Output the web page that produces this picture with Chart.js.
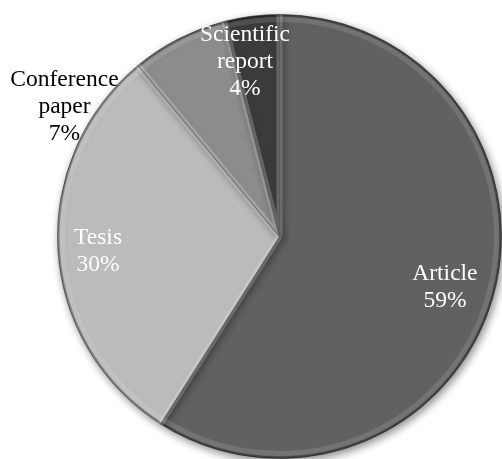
<!DOCTYPE html>
<html>
<head>
<meta charset="utf-8">
<script src="https://cdn.jsdelivr.net/npm/chart.js@4/dist/chart.umd.min.js"></script>
<style>
  html, body { margin: 0; padding: 0; background: #ffffff; }
  #wrap { width: 502px; height: 459px; position: relative; }
</style>
</head>
<body>
<div id="wrap"><canvas id="c" width="502" height="459"></canvas></div>
<script>
// Publication types and their share (%)
const categories = ['Article', 'Tesis', 'Conference paper', 'Scientific report'];
const shares = [59, 30, 7, 4];
const sliceColors = ['#616161', '#bbbbbb', '#8c8c8c', '#3b3b3b'];

// Label placement: fraction of radius along the slice bisector, extra angle (deg)
const labelRadius = [0.78, 0.82, 1.13, 0.80];
const labelAngleShift = [1, -1, -32, -4];
const labelInside = [true, true, false, true];

const FONT = '23.5px "Liberation Serif", "Times New Roman", serif';

// Soft drop shadow under the pie
const shadowPlugin = {
  id: 'pieShadow',
  beforeDatasetDraw(chart) {
    const ctx = chart.ctx;
    ctx.save();
    ctx.shadowColor = 'rgba(0,0,0,0.45)';
    ctx.shadowBlur = 9;
    ctx.shadowOffsetX = 2;
    ctx.shadowOffsetY = 3;
  },
  afterDatasetDraw(chart) {
    chart.ctx.restore();
  }
};

// Bevel highlights along the rim and slice edges
const bevelPlugin = {
  id: 'bevel',
  afterDatasetsDraw(chart) {
    const ctx = chart.ctx;
    const arcs = chart.getDatasetMeta(0).data;
    arcs.forEach((arc) => {
      const { x, y, startAngle, endAngle, outerRadius } = arc.getProps(['x', 'y', 'startAngle', 'endAngle', 'outerRadius'], true);
      ctx.save();
      ctx.beginPath();
      ctx.moveTo(x, y);
      ctx.arc(x, y, outerRadius, startAngle, endAngle);
      ctx.closePath();
      ctx.clip();
      // darker rim band
      ctx.beginPath();
      ctx.arc(x, y, outerRadius - 1, startAngle, endAngle);
      ctx.strokeStyle = 'rgba(0,0,0,0.3)';
      ctx.lineWidth = 2;
      ctx.stroke();
      ctx.beginPath();
      ctx.arc(x, y, outerRadius - 5, startAngle, endAngle);
      ctx.strokeStyle = 'rgba(255,255,255,0.12)';
      ctx.lineWidth = 5;
      ctx.stroke();
      // light edges on the slice sides
      ctx.beginPath();
      ctx.moveTo(x, y);
      ctx.lineTo(x + outerRadius * Math.cos(startAngle), y + outerRadius * Math.sin(startAngle));
      ctx.moveTo(x, y);
      ctx.lineTo(x + outerRadius * Math.cos(endAngle), y + outerRadius * Math.sin(endAngle));
      ctx.strokeStyle = 'rgba(255,255,255,0.22)';
      ctx.lineWidth = 6;
      ctx.stroke();
      ctx.restore();
    });
  }
};

// Category name and percentage written on each slice
const labelPlugin = {
  id: 'sliceLabels',
  afterDatasetsDraw(chart) {
    const ctx = chart.ctx;
    const arcs = chart.getDatasetMeta(0).data;
    ctx.save();
    ctx.font = FONT;
    ctx.textAlign = 'center';
    ctx.textBaseline = 'middle';
    arcs.forEach((arc, i) => {
      const { x, y, startAngle, endAngle, outerRadius } = arc.getProps(['x', 'y', 'startAngle', 'endAngle', 'outerRadius'], true);
      const mid = (startAngle + endAngle) / 2 + labelAngleShift[i] * Math.PI / 180;
      const r = outerRadius * labelRadius[i];
      const cx = x + r * Math.cos(mid);
      const cy = y + r * Math.sin(mid);
      const lines = categories[i].split(' ').concat([shares[i] + '%']);
      const lh = 27;
      const top = cy - (lines.length - 1) * lh / 2;
      ctx.fillStyle = labelInside[i] ? '#ffffff' : '#000000';
      lines.forEach((t, k) => ctx.fillText(t, cx, top + k * lh));
    });
    ctx.restore();
  }
};

function draw() {
  new Chart(document.getElementById('c'), {
    type: 'pie',
    data: {
      labels: categories,
      datasets: [{
        data: shares,
        backgroundColor: sliceColors,
        borderColor: 'rgba(40,40,40,0.6)',
        borderWidth: 1
      }]
    },
    options: {
      responsive: false,
      animation: false,
      events: [],
      layout: { padding: { left: 57, right: 0, top: 14, bottom: 0 } },
      plugins: {
        legend: { display: false },
        tooltip: { enabled: false },
        title: { display: false }
      }
    },
    plugins: [shadowPlugin, bevelPlugin, labelPlugin]
  });
}

document.fonts.load(FONT).then(draw, draw);
</script>
</body>
</html>
